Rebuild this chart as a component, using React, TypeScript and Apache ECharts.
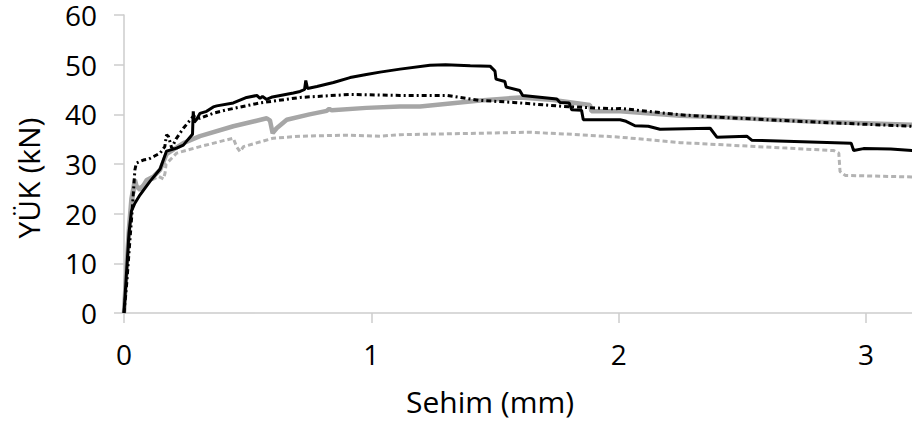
import React, { useEffect, useRef } from "react";
import * as echarts from "echarts";

const xTicks = [0, 1, 2, 3];
const yTicks = [0, 10, 20, 30, 40, 50, 60];
const xAxisTitle = "Sehim (mm)";
const yAxisTitle = "YÜK (kN)";

// black solid
const seriesA: number[][] = [
  [0, 0], [0.01, 8], [0.02, 16], [0.03, 20.5], [0.044, 22.1], [0.065, 23.8], [0.105, 26.5],
  [0.146, 29], [0.172, 32.6], [0.213, 33.2], [0.24, 33.8], [0.26, 35], [0.277, 36],
  [0.28, 40.6], [0.284, 38.4], [0.294, 39], [0.307, 40.2], [0.334, 40.6], [0.361, 41.5],
  [0.375, 41.7], [0.442, 42.3], [0.496, 43.4], [0.537, 43.8], [0.55, 43.2], [0.56, 43.6],
  [0.577, 43.0], [0.6, 43.5], [0.685, 44.3], [0.712, 44.6], [0.73, 45], [0.735, 46.8],
  [0.742, 45.2], [0.78, 45.6], [0.847, 46.4], [0.914, 47.4], [0.98, 48], [1.035, 48.5],
  [1.116, 49.1], [1.237, 49.9], [1.3, 50.0], [1.4, 49.8], [1.48, 49.7], [1.5, 48.7],
  [1.504, 47.1], [1.54, 46.6], [1.545, 45.5], [1.6, 44.8], [1.612, 43.8], [1.75, 43.1],
  [1.763, 42.4], [1.8, 42.3], [1.81, 40.9], [1.85, 40.8], [1.857, 38.9], [2.006, 38.9],
  [2.03, 38.6], [2.066, 37.7], [2.12, 37.6], [2.167, 37.0], [2.37, 37.2], [2.397, 35.4],
  [2.518, 35.6], [2.538, 34.8], [2.94, 34.2], [2.95, 32.7], [2.99, 33.1], [3.1, 33.0],
  [3.186, 32.7], [3.25, 32.6],
];

// black dash-dot
const seriesB: number[][] = [
  [0, 0], [0.011, 6], [0.024, 14.7], [0.035, 22], [0.044, 28.8], [0.05, 30.2], [0.078, 30.8],
  [0.1, 31], [0.12, 31.5], [0.146, 32.2], [0.165, 33.5], [0.172, 35.9], [0.18, 35.5],
  [0.193, 33.2], [0.21, 35], [0.24, 37.2], [0.28, 39.6], [0.307, 39.2], [0.36, 40.2],
  [0.415, 40.9], [0.55, 42.3], [0.712, 43.4], [0.914, 44], [1.116, 43.8], [1.305, 43.8],
  [1.44, 42.8], [1.574, 42.4], [1.776, 41.6], [1.98, 41.1], [2.006, 41.2], [2.25, 39.9],
  [2.41, 39.4], [2.81, 38.4], [3.186, 37.6], [3.25, 37.4],
];

// grey thick solid
const seriesC: number[][] = [
  [0, 0], [0.01, 9], [0.02, 17], [0.03, 23], [0.044, 26.8], [0.051, 25.5], [0.065, 24.8],
  [0.08, 25.8], [0.092, 26.8], [0.12, 27.5], [0.146, 28.8], [0.172, 32.0], [0.24, 34.2],
  [0.307, 35.6], [0.442, 37.6], [0.577, 39.2], [0.59, 38.8], [0.601, 36.2], [0.617, 37.2],
  [0.658, 38.9], [0.75, 40], [0.82, 40.7], [0.83, 41.1], [0.84, 40.8], [0.98, 41.3],
  [1.116, 41.6], [1.197, 41.6], [1.44, 42.8], [1.6, 43.4], [1.736, 42.9], [1.884, 41.9],
  [1.89, 40.6], [2.006, 40.6], [2.25, 39.7], [2.41, 39.4], [2.8, 38.5], [3.186, 37.9],
  [3.25, 37.8],
];

// grey dashed
const seriesD: number[][] = [
  [0, 0], [0.01, 8], [0.02, 15], [0.03, 21], [0.044, 25], [0.07, 25.5], [0.1, 26.5],
  [0.14, 27.5], [0.16, 27.0], [0.166, 28.2], [0.17, 30], [0.186, 30.8], [0.213, 32.2],
  [0.307, 33.5], [0.442, 35.2], [0.455, 33.5], [0.469, 32.5], [0.483, 33.5], [0.604, 35.2],
  [0.712, 35.6], [0.9, 35.8], [1.035, 35.6], [1.116, 35.9], [1.44, 36.2], [1.64, 36.4],
  [1.84, 35.9], [2.006, 35.4], [2.25, 34.3], [2.68, 33.2], [2.87, 32.7], [2.89, 32.2],
  [2.895, 28.5], [2.916, 27.7], [3.186, 27.4], [3.25, 27.3],
];

const FONT = "'Open Sans', 'Noto Sans', sans-serif";
const AXIS_COLOR = "#cccccc";

export default function App() {
  const ref = useRef<HTMLDivElement>(null);

  useEffect(() => {
    if (!ref.current) return;
    const chart = echarts.init(ref.current, undefined, { renderer: "svg" });
    const lineSeries = (data: number[][], color: string, width: number, type: any) => ({
      type: "line",
      data,
      showSymbol: false,
      symbol: "none",
      clip: true,
      lineStyle: { color, width, type },
      z: 2,
    });
    chart.setOption({
      animation: false,
      backgroundColor: "#ffffff",
      grid: { left: 124, top: 15, right: 0, bottom: 114, containLabel: false },
      xAxis: {
        type: "value",
        min: 0,
        max: 3.186,
        interval: 1,
        splitLine: { show: false },
        axisLine: { show: true, lineStyle: { color: AXIS_COLOR, width: 1.5 } },
        axisTick: { show: true, length: 10, lineStyle: { color: AXIS_COLOR, width: 1.5 }, customValues: xTicks },
        axisLabel: {
          fontFamily: FONT,
          fontSize: 28,
          color: "#000",
          margin: 27,
          customValues: xTicks,
        },
      },
      yAxis: {
        type: "value",
        min: 0,
        max: 60,
        interval: 10,
        splitLine: { show: false },
        axisLine: { show: true, lineStyle: { color: AXIS_COLOR, width: 1.5 } },
        axisTick: { show: true, length: 10, lineStyle: { color: AXIS_COLOR, width: 1.5 }, customValues: yTicks },
        axisLabel: {
          fontFamily: FONT,
          fontSize: 28,
          color: "#000",
          margin: 27,
          customValues: yTicks,
        },
      },
      graphic: [
        {
          type: "text",
          x: 490,
          y: 401,
          style: {
            text: xAxisTitle,
            fontFamily: FONT,
            fontSize: 30,
            fill: "#000",
            textAlign: "center",
            textVerticalAlign: "middle",
          },
        },
        {
          type: "text",
          x: 28,
          y: 178,
          rotation: Math.PI / 2,
          style: {
            text: yAxisTitle,
            fontFamily: FONT,
            fontSize: 30,
            fill: "#000",
            textAlign: "center",
            textVerticalAlign: "middle",
          },
        },
      ],
      series: [
        lineSeries(seriesD, "#b3b3b3", 3, [5, 3]),
        lineSeries(seriesC, "#a6a6a6", 4.5, "solid"),
        lineSeries(seriesA, "#000000", 3, "solid"),
        lineSeries(seriesB, "#000000", 3, [5, 3, 2, 3]),
      ],
    });
    return () => chart.dispose();
  }, []);

  return (
    <div
      ref={ref}
      style={{ position: "fixed", left: 0, top: 0, width: 912, height: 427, background: "#fff" }}
    />
  );
}
